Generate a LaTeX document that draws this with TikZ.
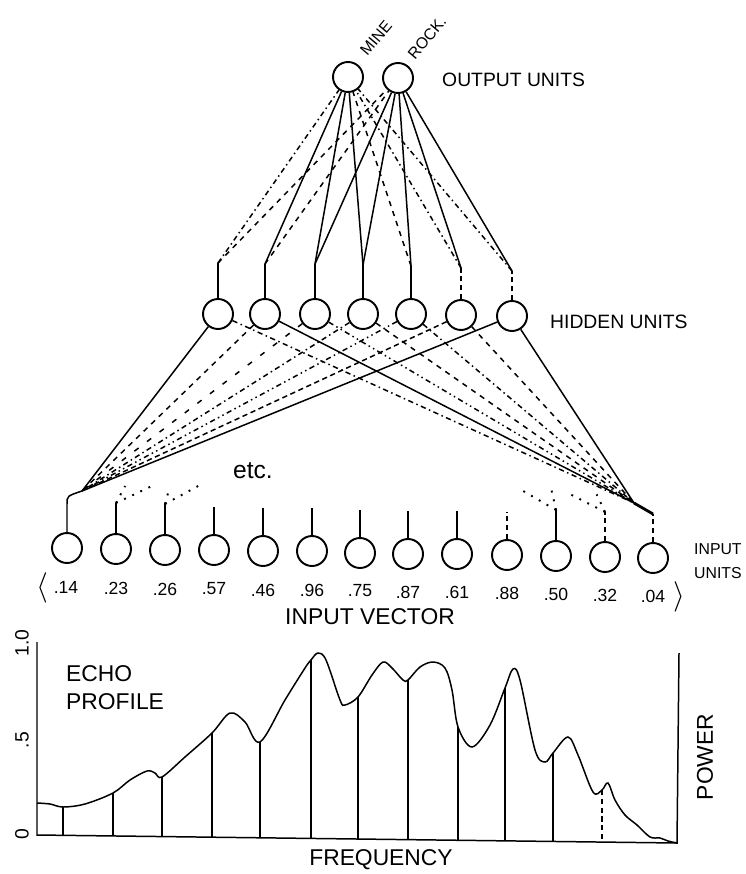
\documentclass[tikz,border=0pt]{standalone}
\usepackage{fontspec}
\setsansfont{Liberation Sans}
\usetikzlibrary{calc}

\tikzset{
  unit/.style={circle, draw, line width=1.1pt, minimum size=0.6cm, inner sep=0pt},
  wire/.style={line width=0.85pt},
  hint/.style={line width=1.1pt, loosely dotted},
  unitlbl/.style={font=\sffamily\fontsize{11}{13}\selectfont},
  numlbl/.style={font=\sffamily\fontsize{10}{12}\selectfont},
  axislbl/.style={font=\sffamily\fontsize{13}{16}\selectfont},
}

\begin{document}
\begin{tikzpicture}[x=0.02cm, y=-0.02cm]
  \useasboundingbox (0,0) rectangle (745,874);

  % Output units
  \node[unit] (mine) at (348,77) {};
  \node[unit] (rock) at (398,78) {};
  \node[numlbl, font=\sffamily\fontsize{9}{11}\selectfont, rotate=50, inner sep=0pt] (mine-lbl) at (376,38) {MINE};
  \node[numlbl, font=\sffamily\fontsize{9}{11}\selectfont, rotate=50, inner sep=0pt] (rock-lbl) at (427,38) {ROCK.};
  \node[unitlbl, anchor=west] (out-lbl) at (436,80) {OUTPUT UNITS};

  % Hidden units
  \node[unit] (h1) at (218,314) {};
  \node[unit] (h2) at (265,314) {};
  \node[unit] (h3) at (315,314) {};
  \node[unit] (h4) at (363,314) {};
  \node[unit] (h5) at (411,314) {};
  \node[unit] (h6) at (461,315) {};
  \node[unit] (h7) at (512,316) {};
  \node[unitlbl, anchor=west] (hid-lbl) at (544,322) {HIDDEN UNITS};

  \coordinate (j1) at (218,263);
  \coordinate (j2) at (265,264);
  \coordinate (j3) at (315,264);
  \coordinate (j4) at (363,265);
  \coordinate (j5) at (411,266);
  \coordinate (j6) at (461,268);
  \coordinate (j7) at (512,271);
  \draw[wire] (h1.north) -- (j1);
  \draw[wire] (h2.north) -- (j2);
  \draw[wire] (h3.north) -- (j3);
  \draw[wire] (h4.north) -- (j4);
  \draw[wire] (h5.north) -- (j5);
  \draw[wire, densely dashed] (h6.north) -- (j6);
  \draw[wire, densely dashed] (h7.north) -- (j7);

  % Hidden to output weights
  \draw[wire, dash dot] (j1) -- (mine);
  \draw[wire, dashed] (j1) -- (rock);
  \draw[wire] (j2) -- (mine);
  \draw[wire, dashed] (j2) -- (rock);
  \draw[wire] (j3) -- (mine);
  \draw[wire] (j3) -- (rock);
  \draw[wire] (j4) -- (mine);
  \draw[wire] (j4) -- (rock);
  \draw[wire, dashed] (j5) -- (mine);
  \draw[wire] (j5) -- (rock);
  \draw[wire, dash dot] (j6) -- (mine);
  \draw[wire] (j6) -- (rock);
  \draw[wire, dash dot] (j7) -- (mine);
  \draw[wire] (j7) -- (rock);

  % Input units
  \node[unit] (i1) at (67,548) {};
  \node[unit] (i2) at (116,549) {};
  \node[unit] (i3) at (165,550) {};
  \node[unit] (i4) at (214,550) {};
  \node[unit] (i5) at (263,551) {};
  \node[unit] (i6) at (312,551) {};
  \node[unit] (i7) at (360,553) {};
  \node[unit] (i8) at (408,554) {};
  \node[unit] (i9) at (457,554) {};
  \node[unit] (i10) at (507,555) {};
  \node[unit] (i11) at (556,556) {};
  \node[unit] (i12) at (605,557) {};
  \node[unit] (i13) at (653,558) {};

  \node[numlbl] (v1) at (66,587) {.14};
  \node[numlbl] (v2) at (116,588) {.23};
  \node[numlbl] (v3) at (165,589) {.26};
  \node[numlbl] (v4) at (214,589) {.57};
  \node[numlbl] (v5) at (263,590) {.46};
  \node[numlbl] (v6) at (312,590) {.96};
  \node[numlbl] (v7) at (360,591) {.75};
  \node[numlbl] (v8) at (408,592) {.87};
  \node[numlbl] (v9) at (457,592) {.61};
  \node[numlbl] (v10) at (507,593) {.88};
  \node[numlbl] (v11) at (556,594) {.50};
  \node[numlbl] (v12) at (605,595) {.32};
  \node[numlbl] (v13) at (653,596) {.04};
  \node[font=\LARGE] (lang) at (42,588) {$\langle$};
  \node[font=\LARGE] (rang) at (679,597) {$\rangle$};

  \node[numlbl, font=\sffamily\fontsize{9}{11}\selectfont, anchor=west, align=left] (in-lbl) at (688,561) {INPUT\\[3pt]UNITS};
  \node[axislbl] (vec-lbl) at (370,617) {INPUT VECTOR};
  \node[font=\sffamily\fontsize{14}{16}\selectfont] (etc) at (253,471) {etc.};

  % Input stubs
  \coordinate (s1) at (67,504);
  \coordinate (s2) at (116,503);
  \coordinate (s3) at (165,504);
  \coordinate (s4) at (214,507);
  \coordinate (s5) at (263,508);
  \coordinate (s6) at (312,508);
  \coordinate (s7) at (360,510);
  \coordinate (s8) at (408,511);
  \coordinate (s9) at (457,511);
  \coordinate (s10) at (507,512);
  \coordinate (s11) at (556,510);
  \coordinate (s12) at (605,512);
  \coordinate (s13) at (653,514);
  \coordinate (b1) at (82,491);
  \coordinate (b13) at (634,503);
  \draw[wire] (i1.north) -- (s1) .. controls (67,496) .. (b1);
  \draw[wire] (i2.north) -- (s2);
  \draw[wire] (i3.north) -- (s3);
  \draw[wire] (i4.north) -- (s4);
  \draw[wire] (i5.north) -- (s5);
  \draw[wire] (i6.north) -- (s6);
  \draw[wire] (i7.north) -- (s7);
  \draw[wire] (i8.north) -- (s8);
  \draw[wire] (i9.north) -- (s9);
  \draw[wire, densely dashed] (i10.north) -- (s10);
  \draw[wire] (i11.north) -- (s11);
  \draw[wire, densely dashed] (i12.north) -- (s12);
  \draw[wire, densely dashed] (i13.north) -- (s13);
  \draw[line width=1.6pt] (s13) -- (b13);

  % Input to hidden weights
  \draw[wire] (h1) -- (b1);
  \draw[wire, dashed] (h2) -- (b1);
  \draw[wire, loosely dashed] (h3) -- (b1);
  \draw[wire, dash dot] (h4) -- (b1);
  \draw[wire, dash dot dot] (h5) -- (b1);
  \draw[wire, densely dashed] (h6) -- (b1);
  \draw[wire] (h7) -- (b1);
  \draw[wire, dash dot] (h1) -- (b13);
  \draw[wire] (h2) -- (b13);
  \draw[wire, dash dot dot] (h3) -- (b13);
  \draw[wire, dashed] (h4) -- (b13);
  \draw[wire, dash dot] (h5) -- (b13);
  \draw[wire, dashed] (h6) -- (b13);
  \draw[wire] (h7) -- (b13);

  % etc.
  \draw[hint] (s2) -- ($(s2)!0.09!(h1)$);
  \draw[hint] (s2) -- ($(s2)!0.09!(h7)$);
  \draw[hint] (s3) -- ($(s3)!0.09!(h1)$);
  \draw[hint] (s3) -- ($(s3)!0.1!(h7)$);
  \draw[hint] (s11) -- ($(s11)!0.1!(h7)$);
  \draw[hint] (s11) -- ($(s11)!0.1!(h1)$);
  \draw[hint] (s12) -- ($(s12)!0.09!(h7)$);
  \draw[hint] (s12) -- ($(s12)!0.1!(h1)$);

  % Echo profile
  \draw[wire] (37,642) -- (37,835) -- (677,843) -- (679,653);
  \draw[wire] plot[smooth, tension=0.55] coordinates {
    (37,803) (50,804) (63,807) (85,804) (113,793) (130,780) (147,771)
    (155,773) (162,777) (185,757) (212,733) (230,713) (245,722) (260,742)
    (285,700) (305,668) (311,660) (318,653) (326,660) (340,700) (345,705)
    (358,697) (372,675) (383,662) (392,668) (403,680) (408,680) (420,667)
    (433,662) (445,668) (452,690) (458,727) (472,747) (490,725) (505,688)
    (513,669) (520,680) (535,750) (545,762) (553,753) (568,737) (578,755)
    (593,792) (602,790) (608,783) (615,800) (625,815) (637,825) (650,837)
    (660,838) (668,841) (677,843)};
  \draw[wire] (63,807) -- (63,835.3);
  \draw[wire] (113,793) -- (113,836);
  \draw[wire] (162,777) -- (162,836.6);
  \draw[wire] (212,733) -- (212,837.2);
  \draw[wire] (260,742) -- (260,837.8);
  \draw[wire] (311,660) -- (311,838.4);
  \draw[wire] (358,697) -- (358,839);
  \draw[wire] (408,680) -- (408,839.6);
  \draw[wire] (458,727) -- (458,840.3);
  \draw[wire] (505,688) -- (505,840.9);
  \draw[wire] (553,753) -- (553,841.5);
  \draw[wire, densely dashed] (602,790) -- (602,842.1);

  \node[unitlbl, rotate=90] (t10) at (22,643) {1.0};
  \node[unitlbl, rotate=90] (t05) at (22,740) {.5};
  \node[unitlbl, rotate=90] (t00) at (22,834) {0};
  \node[axislbl, anchor=west, align=left] (echo-lbl) at (60,688) {ECHO\\PROFILE};
  \node[axislbl, rotate=90] (pow-lbl) at (705,757) {POWER};
  \node[axislbl] (freq-lbl) at (381,860) {FREQUENCY};
\end{tikzpicture}
\end{document}
